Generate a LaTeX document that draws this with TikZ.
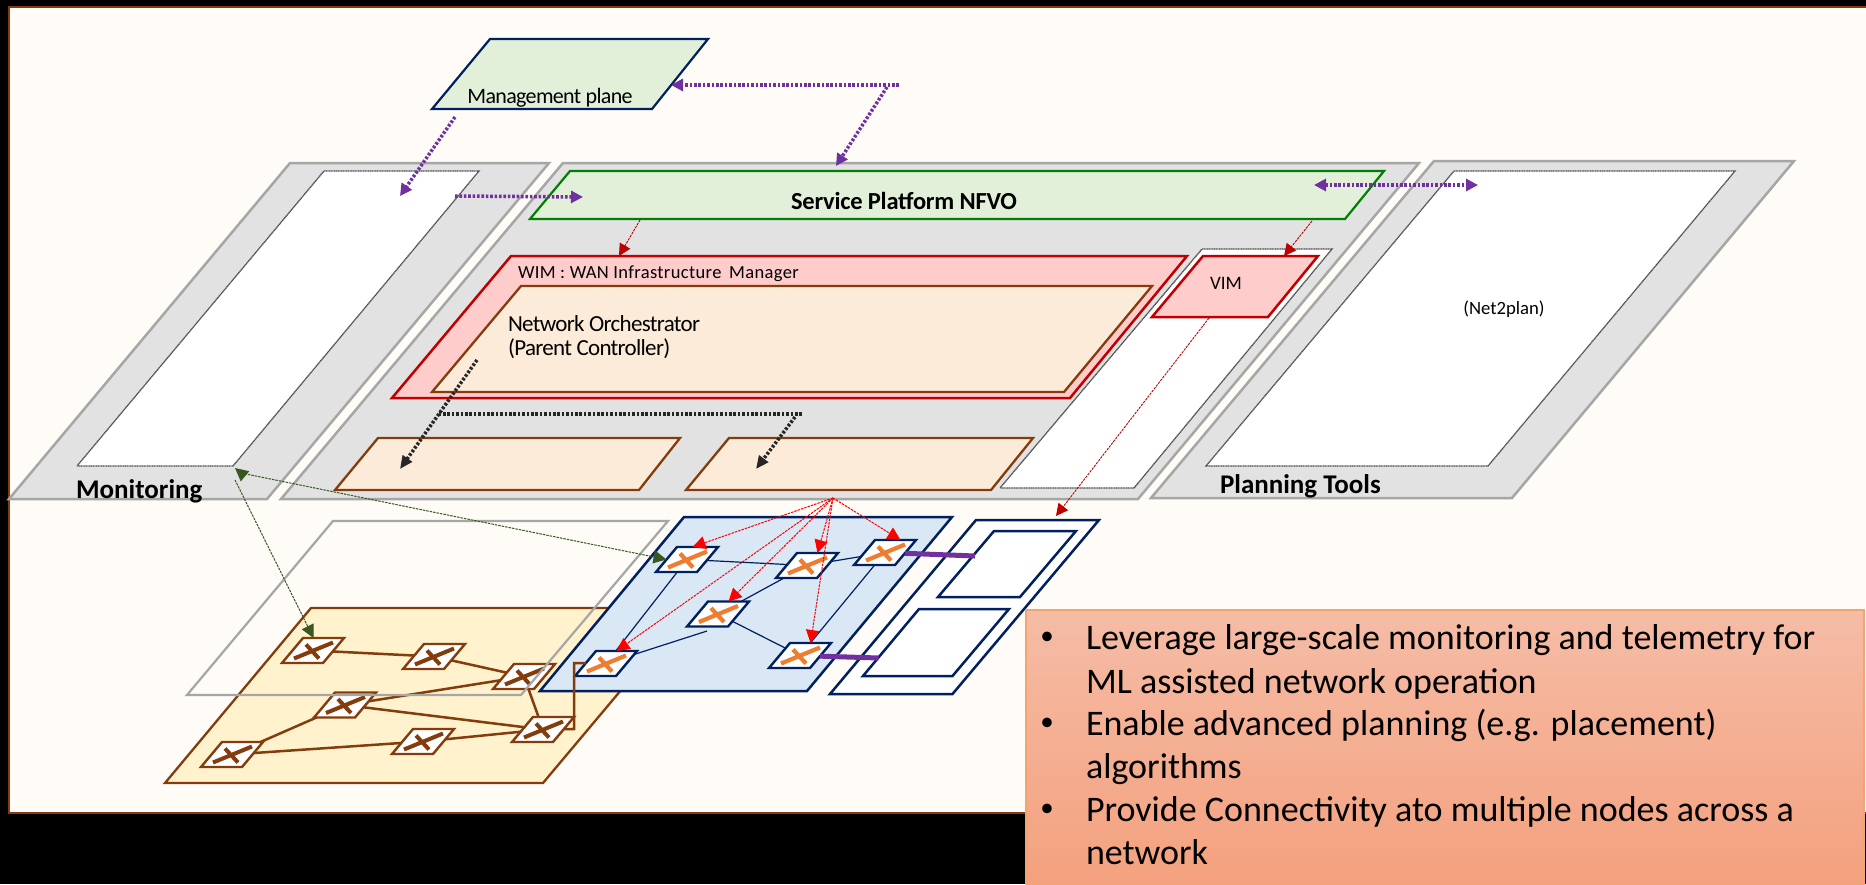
\documentclass[tikz,border=0pt]{standalone}
\usepackage{fontspec}
\setmainfont{Carlito}
\usetikzlibrary{arrows.meta}
\definecolor{bgc}{HTML}{FFFBF6}
\definecolor{framec}{HTML}{843C0C}
\definecolor{grayf}{HTML}{E2E2E2}
\definecolor{grayd}{HTML}{A6A6A6}
\definecolor{greenf}{HTML}{E2F0D9}
\definecolor{greend}{HTML}{008000}
\definecolor{navy}{HTML}{002060}
\definecolor{redf}{HTML}{FFCCCC}
\definecolor{redd}{HTML}{C00000}
\definecolor{orf}{HTML}{FDEBD9}
\definecolor{yelf}{HTML}{FFF2CC}
\definecolor{bluef}{HTML}{DAE7F5}
\definecolor{purp}{HTML}{7030A0}
\definecolor{orb}{HTML}{ED7D31}
\definecolor{mon}{HTML}{385723}
\definecolor{boxt}{HTML}{F5BCA6}
\definecolor{boxb}{HTML}{F4A17E}
\definecolor{boxd}{HTML}{F4A46E}
\newcommand{\myfs}[1]{\fontsize{#1}{#1}\selectfont}
\tikzset{
  x=1pt,y=-1pt,
  grayplane/.style={fill=grayf,draw=grayd,line width=2.5pt},
  whiteplane/.style={fill=white,draw=black!70,line width=1.3pt,dash pattern=on 1.2pt off 0.5pt},
  greenplane/.style={fill=greenf,draw=greend,line width=2.2pt},
  mgmtplane/.style={fill=greenf,draw=navy,line width=2.2pt},
  redplane/.style={fill=redf,draw=redd,line width=2.5pt},
  orplane/.style={fill=orf,draw=framec,line width=2.3pt},
  yelplane/.style={fill=yelf,draw=framec,line width=2.3pt},
  blueplane/.style={fill=bluef,draw=navy,line width=2.5pt},
  navyplane/.style={fill=white,draw=navy,line width=2.5pt},
  swbase/.style={draw,fill=white,xslant=0.84,transform shape,minimum width=41pt,minimum height=25pt,inner sep=0pt,outer sep=0pt,line width=2.4pt},
  swy/.style={swbase,draw=framec},
  swb/.style={swbase,draw=navy},
  ybar/.style={draw=framec,line width=4pt},
  bbar/.style={draw=orb,line width=4.2pt},
  ylink/.style={draw=framec,line width=2.5pt},
  blink/.style={draw=navy,line width=1.2pt},
  plink/.style={draw=purp,line width=5pt},
  purparrow/.style={draw=purp,line width=3.5pt,dash pattern=on 2.6pt off 1.8pt,-{Triangle[length=12pt,width=12pt,fill=purp]}},
  purpdouble/.style={draw=purp,line width=3.5pt,dash pattern=on 2.6pt off 1.8pt,{Triangle[length=12pt,width=12pt,fill=purp]}-{Triangle[length=12pt,width=12pt,fill=purp]}},
  blackarrow/.style={draw=black!85,line width=3.5pt,dash pattern=on 2.6pt off 1.8pt,-{Triangle[length=13pt,width=11pt,fill=black!85]}},
  blackline/.style={draw=black!85,line width=3.2pt,dash pattern=on 2.6pt off 1.8pt},
  redthin/.style={draw=redd,line width=0.9pt,dash pattern=on 2.5pt off 1pt,-{Triangle[length=12pt,width=12pt,fill=redd]}},
  redbright/.style={draw=red,line width=1pt,dash pattern=on 2.5pt off 1pt,-{Triangle[length=13pt,width=13pt,fill=red]}},
  greenarrow/.style={draw=mon,line width=1pt,dash pattern=on 2.5pt off 1pt,-{Triangle[length=13pt,width=13pt,fill=mon]}},
  lbl/.style={inner sep=0pt,outer sep=0pt,text=black},
}
\begin{document}
\begin{tikzpicture}
\useasboundingbox (0,0) rectangle (1866,884);
\fill[black] (0,0) rectangle (1866,884);
\draw[fill=bgc,draw=framec,line width=2pt] (9,7) -- (1880,7) -- (1880,813) -- (9,813) -- cycle;

% top tier planes
\draw[mgmtplane] (490,39) -- (708,39) -- (652,109) -- (432,109) -- cycle;
\draw[grayplane] (290,163) -- (549,163) -- (267,499) -- (9,499) -- cycle;
\draw[whiteplane] (324,171) -- (479,171) -- (233,466) -- (77,466) -- cycle;
\draw[grayplane] (563,163) -- (1419,163) -- (1138,499) -- (281,499) -- cycle;
\draw[greenplane] (570,171) -- (1384,171) -- (1345,219) -- (530,219) -- cycle;
\draw[whiteplane] (1202,249) -- (1332,249) -- (1134,488) -- (1000,488) -- cycle;
\draw[redplane] (511,256) -- (1187,256) -- (1070,398) -- (392,398) -- cycle;
\draw[orplane] (521,286) -- (1152,286) -- (1064,392) -- (432,392) -- cycle;
\draw[redplane] (1203,256) -- (1318,256) -- (1268,317) -- (1152,317) -- cycle;
\draw[orplane] (378,438) -- (680,438) -- (639,490) -- (335,490) -- cycle;
\draw[orplane] (729,438) -- (1033,438) -- (991,490) -- (686,490) -- cycle;
\draw[grayplane] (1434,161) -- (1794,161) -- (1512,498) -- (1151,498) -- cycle;
\draw[whiteplane] (1454,171) -- (1735,171) -- (1488,466) -- (1206,466) -- cycle;

% lower planes
\draw[yelplane] (311,608) -- (690,608) -- (543,783) -- (165,783) -- cycle;
\draw[blueplane] (684,517) -- (952,517) -- (807,691) -- (540,691) -- cycle;
\draw[navyplane] (976,520) -- (1099,520) -- (952.5,694) -- (830,694) -- cycle;
\draw[navyplane] (994,531) -- (1076,531) -- (1020,597) -- (938,597) -- cycle;
\draw[navyplane] (919,609) -- (1009,609) -- (952.5,676) -- (863,676) -- cycle;

% switches
\node[swy] (y1) at (313,650.5) {};
\node[swy] (y2) at (434,656.5) {};
\node[swy] (y3) at (524,676.5) {};
\node[swy] (y4) at (345,705) {};
\node[swy] (y5) at (232,754.5) {};
\node[swy] (y6) at (423,741.5) {};
\node[swy] (y7) at (543,729.5) {};
\node[swb] (b1) at (687,559.5) {};
\node[swb] (b2) at (807,565.5) {};
\node[swb] (b3) at (885,552.5) {};
\node[swb] (b4) at (718,614) {};
\node[swb] (b5) at (800,655.5) {};
\node[swb] (b6) at (606,663.5) {};

% switch crosses
\foreach \n in {y1,y2,y3,y4,y5,y6,y7}
  \draw[ybar,shift={(\n)}] (-19,8) -- (20,-8) (-7,-6) -- (6,8);
\foreach \n in {b1,b2,b3,b4,b5,b6}
  \draw[bbar,shift={(\n)}] (-19,8) -- (20,-8) (-7,-6) -- (6,8);

% links
\coordinate (elba) at (574,729);
\coordinate (elbb) at (574,663);
\coordinate (bend) at (707,631);
\draw[ylink] (y1) -- (y2);
\draw[ylink] (y2) -- (y3);
\draw[ylink] (y3) -- (y4);
\draw[ylink] (y3) -- (y7);
\draw[ylink] (y4) -- (y7);
\draw[ylink] (y4) -- (y5);
\draw[ylink] (y5) -- (y6);
\draw[ylink] (y6) -- (y7);
\draw[ylink] (y7) -- (elba) -- (elbb) -- (b6);
\draw[blink] (b1) -- (b2);
\draw[blink] (b2) -- (b3);
\draw[blink] (b2) -- (b4);
\draw[blink] (b3) -- (b5);
\draw[blink] (b4) -- (b5);
\draw[blink] (b1) -- (b6);
\draw[blink] (b6) -- (bend);
\coordinate (pa) at (975,556);
\coordinate (pb) at (878.5,658);
\draw[plink] (b3) -- (pa);
\draw[plink] (b5) -- (pb);

% outline plane
\draw[draw=grayd,line width=2.2pt] (333,521) -- (668,521) -- (521,695) -- (187,695) -- cycle;

% named free ends
\coordinate (ma) at (455,117);
\coordinate (mb) at (400,196);
\coordinate (mc) at (899,85);
\coordinate (md) at (671,85);
\coordinate (me) at (887,87);
\coordinate (mf) at (836,166);
\coordinate (mg) at (455,196);
\coordinate (mh) at (583,197);
\coordinate (mi) at (1314,185);
\coordinate (mj) at (1478,185);
\coordinate (ka) at (477,360);
\coordinate (kb) at (400,469);
\coordinate (kc) at (802,414);
\coordinate (kd) at (439,414);
\coordinate (ke) at (795,417);
\coordinate (kf) at (756,469);
\coordinate (ra) at (640,220);
\coordinate (rb) at (619,256);
\coordinate (rc) at (1312,221);
\coordinate (rd) at (1284,256);
\coordinate (re) at (1209,318);
\coordinate (rf) at (1056,516);
\coordinate (apex) at (833,498);
\coordinate (ga) at (235,468);
\coordinate (gb) at (241,473);
\coordinate (gc) at (235,480);

% dotted arrows
\draw[purparrow] (ma) -- (mb);
\draw[purparrow] (mc) -- (md);
\draw[purparrow] (me) -- (mf);
\draw[purparrow] (mg) -- (mh);
\draw[purpdouble] (mi) -- (mj);
\draw[blackarrow] (ka) -- (kb);
\draw[blackline] (kc) -- (kd);
\draw[blackarrow] (ke) -- (kf);
\draw[redthin] (ra) -- (rb);
\draw[redthin] (rc) -- (rd);
\draw[redthin] (re) -- (rf);
\draw[redbright] (apex) -- ([xshift=-5pt]b1.north);
\draw[redbright] (apex) -- (b4.north);
\draw[redbright] (apex) -- (b6.north);
\draw[redbright] (apex) -- (b2.north);
\draw[redbright] (apex) -- (b5.north);
\draw[redbright] (apex) -- ([xshift=5pt]b3.north);
\draw[greenarrow] (gc) -- ([xshift=-10pt]y1.north);
\draw[greenarrow] (gb) -- (b1.west);
\draw[greenarrow] (gb) -- (ga);

% labels
\node[lbl,anchor=base] (tmgmt) at (550,103) {\myfs{22}\addfontfeature{LetterSpace=-3}Management plane};
\node[lbl] (tsp) at (904,201) {\myfs{24.5}\bfseries\addfontfeature{LetterSpace=-1}Service Platform NFVO};
\node[lbl,anchor=west] (twim) at (518,274) {\myfs{18.5}\addfontfeature{LetterSpace=2}WIM : WAN Infrastructure\, Manager};
\node[lbl,anchor=west] (tno) at (508,324) {\myfs{23}\addfontfeature{LetterSpace=-3}Network Orchestrator};
\node[lbl,anchor=west] (tpc) at (508,349) {\myfs{23}\addfontfeature{LetterSpace=-3}(Parent Controller)};
\node[lbl] (tvim) at (1226,283) {\myfs{19}VIM};
\node[lbl] (tn2p) at (1504,309) {\myfs{18.7}(Net2plan)};
\node[lbl,anchor=base west] (tmon) at (76,498) {\myfs{27}\bfseries Monitoring};
\node[lbl,anchor=base west] (tpt) at (1220,493) {\myfs{27}\bfseries Planning Tools};

% text box
\path[top color=boxt,bottom color=boxb,draw=boxd,line width=1.5pt] (1026,610) -- (1864,610) -- (1864,884) -- (1026,884) -- cycle;
\node[lbl] (ba) at (1047,638) {\myfs{27}•};
\node[lbl] (bb) at (1047,724) {\myfs{27}•};
\node[lbl] (bc) at (1047,810) {\myfs{27}•};
\node[lbl,anchor=base west] (la) at (1086,649) {\myfs{36}Leverage large-scale monitoring and telemetry for};
\node[lbl,anchor=base west] (lb) at (1086,693) {\myfs{36}ML assisted network operation};
\node[lbl,anchor=base west] (lc) at (1086,735) {\myfs{36}Enable advanced planning (e.g. placement)};
\node[lbl,anchor=base west] (ld) at (1086,778) {\myfs{36}algorithms};
\node[lbl,anchor=base west] (le) at (1086,821) {\myfs{36}Provide Connectivity ato multiple nodes across a};
\node[lbl,anchor=base west] (lf) at (1086,864) {\myfs{36}network};
\end{tikzpicture}
\end{document}
